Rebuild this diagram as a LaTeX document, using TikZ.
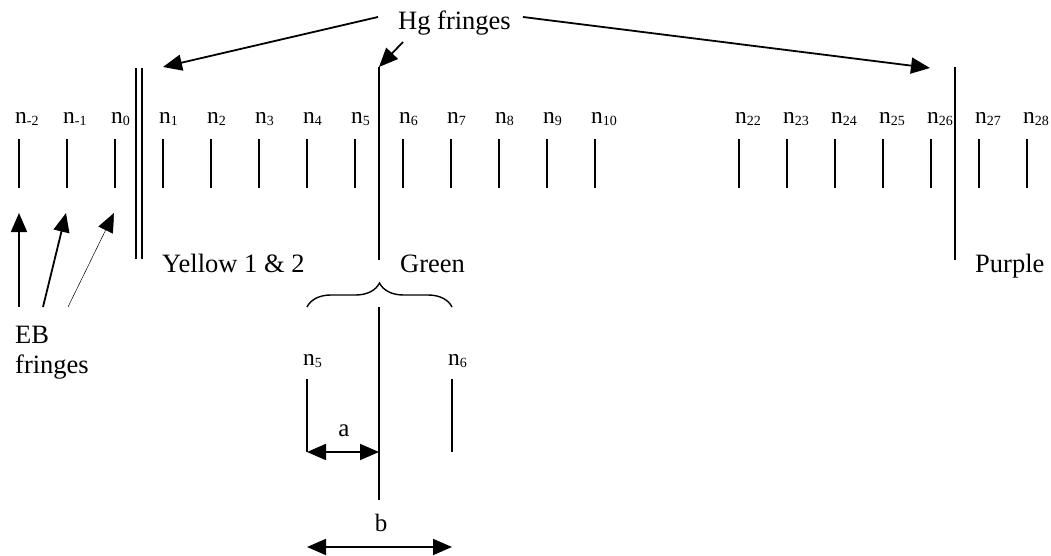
\documentclass[tikz,border=0pt]{standalone}
\usepackage{fontspec}
\setmainfont{Liberation Serif}
\usetikzlibrary{arrows.meta,decorations.pathreplacing}
% fringe label: "n" with a small lowered index
\newcommand\nsub[1]{n\raisebox{-2pt}{\fontsize{14}{14}\selectfont #1}}

\begin{document}
\begin{tikzpicture}[x=1pt,y=-1pt,
  fringe/.style={line width=1.8pt},
  tip/.tip={Triangle[length=19pt,width=16pt]},
  arr/.style={line width=1.8pt,-tip},
  thinarr/.style={line width=0.5pt,-tip},
  dimarr/.style={line width=1.8pt,tip-tip},
  lab/.style={anchor=base west,inner sep=0pt,font=\fontsize{26.5}{30}\selectfont},
  clab/.style={anchor=base,inner sep=0pt,font=\fontsize{25}{28}\selectfont},
  nlab/.style={anchor=base west,inner sep=0pt,font=\fontsize{23.5}{26}\selectfont},
]
\useasboundingbox (0,0) rectangle (1051,556);

% row of EB fringes with their orders
\foreach \k/\x in {-2/19,-1/67,0/115,1/163,2/211,3/259,4/307,5/355,6/403,7/451,
                   8/499,9/547,10/595,22/739,23/787,24/835,25/883,26/931,27/979,28/1027}{
  \coordinate (t\k top) at (\x,139);
  \coordinate (t\k bot) at (\x,188);
  \draw[fringe] (t\k top) -- (t\k bot);
  \node[nlab] (n\k) at (\x-4,124) {\nsub{\k}};
}

% Hg lines: yellow doublet, green, purple
\coordinate (ya top) at (136,68); \coordinate (ya bot) at (136,259);
\coordinate (yb top) at (142,68); \coordinate (yb bot) at (142,259);
\coordinate (g top) at (379,67);  \coordinate (g bot) at (379,260);
\coordinate (p top) at (955,67);  \coordinate (p bot) at (955,260);
\draw[fringe] (ya top) -- (ya bot);
\draw[fringe] (yb top) -- (yb bot);
\draw[fringe] (g top) -- (g bot);
\draw[fringe] (p top) -- (p bot);

\node[lab] (yellow) at (162,272) {Yellow 1 \& 2};
\node[lab] (green)  at (400,272) {Green};
\node[lab] (purple) at (975,272) {Purple};

% Hg label and its pointers
\node[lab] (hg) at (398,30) {Hg fringes};
\coordinate (hgL) at (378,17);
\coordinate (hgM) at (403,42);
\coordinate (hgR) at (523,17);
\coordinate (yTip) at (163,67);
\coordinate (pTip) at (930,68);
\draw[arr] (hgL) -- (yTip);
\draw[arr] (hgM) -- (g top);
\draw[arr] (hgR) -- (pTip);

% EB label and its pointers
\node[lab] (eb1) at (15,343) {EB};
\node[lab] (eb2) at (15,373) {fringes};
\coordinate (e1) at (19,307);  \coordinate (e1t) at (19,213);
\coordinate (e2) at (43,307);  \coordinate (e2t) at (66,213);
\coordinate (e3) at (68,307);  \coordinate (e3t) at (114,213);
\draw[arr] (e1) -- (e1t);
\draw[arr] (e2) -- (e2t);
\draw[thinarr] (e3) -- (e3t);

% enlarged view between n5 and n6
\coordinate (bl) at (307,307);
\coordinate (br) at (452,307);
\draw[line width=1.4pt,decorate,decoration={brace,amplitude=24pt}] (bl) -- (br);

\coordinate (zg top) at (379,307); \coordinate (zg bot) at (379,500);
\coordinate (z5 top) at (307,379); \coordinate (z5 bot) at (307,452);
\coordinate (z6 top) at (452,379); \coordinate (z6 bot) at (452,452);
\draw[fringe] (zg top) -- (zg bot);
\draw[fringe] (z5 top) -- (z5 bot);
\draw[fringe] (z6 top) -- (z6 bot);
\node[nlab] (zn5) at (303,365) {\nsub{5}};
\node[nlab] (zn6) at (448,365) {\nsub{6}};

\coordinate (aL) at (307,452); \coordinate (aR) at (379,452);
\draw[dimarr] (aL) -- (aR);
\node[clab] (a) at (344,436) {a};

\coordinate (bL) at (307,547); \coordinate (bR) at (452,547);
\draw[dimarr] (bL) -- (bR);
\node[clab] (b) at (381,531) {b};
\end{tikzpicture}
\end{document}
